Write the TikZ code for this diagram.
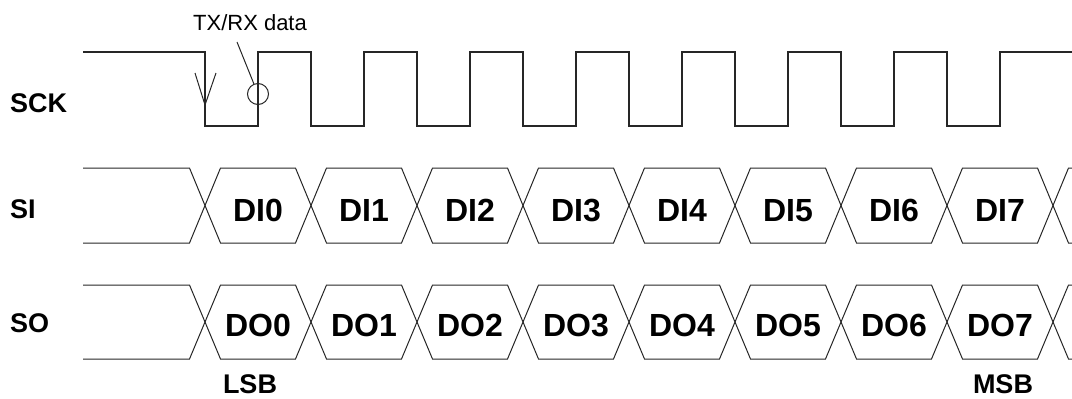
\documentclass[tikz,border=0pt]{standalone}
\usepackage{fontspec}
\setmainfont{Liberation Sans}
\begin{document}
\begin{tikzpicture}[x=1pt,y=-1pt,
  wave/.style={draw=black!85, line width=1.2pt, line join=miter},
  bus/.style={draw=black!85, line width=1pt, line join=miter},
  anno/.style={draw=black!85, line width=1pt},
  lbl/.style={font=\fontsize{27}{27}\selectfont\bfseries, anchor=base west, inner sep=0},
  bitlbl/.style={font=\fontsize{27}{27}\selectfont\bfseries, anchor=base, inner sep=0},
  dat/.style={font=\fontsize{32}{32}\selectfont\bfseries, anchor=base, inner sep=0},
  note/.style={font=\fontsize{22}{22}\selectfont, anchor=base, inner sep=0}]
\useasboundingbox (0,0) rectangle (1072,399);

% signal labels
\node[lbl] (sck) at (10,112) {SCK};
\node[lbl] (si) at (10,218) {SI};
\node[lbl] (so) at (10,332) {SO};

% SCK waveform
\draw[wave] (83,52) -- (205,52)
  \foreach \i in {0,...,7} { -- (205+106*\i,126) -- (258+106*\i,126) -- (258+106*\i,52) -- (311+106*\i,52) }
  -- (1072,52);

% falling-edge arrow
\coordinate (al) at (195,73);
\coordinate (at) at (205,105);
\coordinate (ar) at (216,73);
\draw[anno] (al) -- (at) -- (ar);

% sampling circle and annotation
\node[circle, draw=black!85, line width=1pt, minimum size=21pt, inner sep=0] (samp) at (258,94) {};
\node[note] (txrx) at (250,30) {TX/RX data};
\coordinate (lead) at (237,42);
\draw[anno] (lead) -- (samp);

% data buses
\foreach \yt/\yb/\ym/\base/\pre in {168/243/205.5/221/DI, 285/359/322/336/DO} {
  % left stub
  \draw[bus] (83,\yt) -- (189.5,\yt) -- (205,\ym) -- (189.5,\yb) -- (83,\yb);
  % cells
  \foreach \i in {0,...,7} {
    \draw[bus] (205+106*\i,\ym) -- (220.5+106*\i,\yt) -- (295.5+106*\i,\yt) -- (311+106*\i,\ym)
      -- (295.5+106*\i,\yb) -- (220.5+106*\i,\yb) -- cycle;
    \node[dat] at (258+106*\i,\base) {\pre\i};
  }
  % right stub
  \draw[bus] (1072,\yt) -- (1068.5,\yt) -- (1053,\ym) -- (1068.5,\yb) -- (1072,\yb);
}

% bit order labels
\node[bitlbl] (lsb) at (250,393) {LSB};
\node[bitlbl] (msb) at (1003,393) {MSB};
\end{tikzpicture}
\end{document}
